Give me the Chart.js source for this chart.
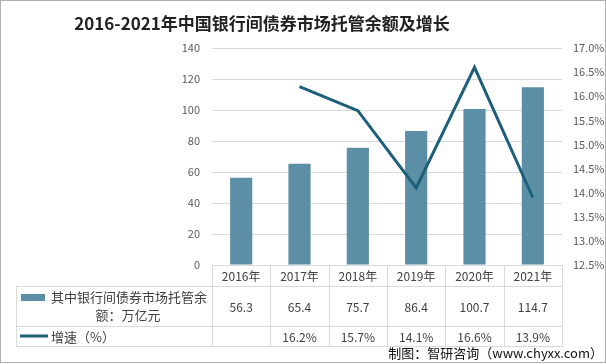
<!DOCTYPE html>
<html>
<head>
<meta charset="utf-8">
<script src="https://cdn.jsdelivr.net/npm/chart.js@4"></script>
<style>
  body { margin: 0; background: #fff; }
  #wrap { position: relative; width: 606px; height: 364px; }
  #title {
    position: absolute; left: 0; top: 11px; width: 524px; text-align: center;
    font: bold 17px 'Noto Sans CJK SC', sans-serif; line-height: 24px; color: #222;
  }
  #source {
    position: absolute; right: 3px; top: 344px;
    font: 13px 'Noto Sans CJK SC', sans-serif; line-height: 18px; color: #111;
  }
</style>
</head>
<body>
<div id="wrap">
  <canvas id="chart" width="606" height="364"></canvas>
  <div id="title">2016-2021年中国银行间债券市场托管余额及增长</div>
  <div id="source">制图：智研咨询（www.chyxx.com）</div>
</div>
<script>
const years = ['2016年', '2017年', '2018年', '2019年', '2020年', '2021年'];
const balance = [56.3, 65.4, 75.7, 86.4, 100.7, 114.7];
const growth = [null, 16.2, 15.7, 14.1, 16.6, 13.9];
const barName = '其中银行间债券市场托管余额：万亿元';
const lineName = '增速（%）';

const barColor = '#5B8FA5';
const lineColor = '#1D5F7B';
const gridColor = '#d9d9d9';
const textColor = '#404040';

Chart.defaults.font.family = "'Noto Sans CJK SC', 'Noto Sans', sans-serif";

// table under the plot, drawn on the x scale columns
const tablePlugin = {
  id: 'dataTable',
  afterDraw(chart) {
    const ctx = chart.ctx;
    const area = chart.chartArea;
    const x = chart.scales.x;
    const n = years.length;
    const colW = (area.right - area.left) / n;
    const rowTop = area.bottom, row1 = rowTop + 21, row2 = row1 + 40, row3 = row2 + 20;
    const leftEdge = 16;

    ctx.save();
    ctx.strokeStyle = gridColor;
    ctx.lineWidth = 1;
    ctx.beginPath();
    ctx.moveTo(area.left, rowTop + 0.5); ctx.lineTo(area.right, rowTop + 0.5);
    [row1, row2, row3].forEach(y => {
      ctx.moveTo(leftEdge, y + 0.5); ctx.lineTo(area.right, y + 0.5);
    });
    ctx.moveTo(leftEdge + 0.5, row1); ctx.lineTo(leftEdge + 0.5, row3);
    for (let k = 0; k <= n; k++) {
      const xx = Math.round(area.left + k * colW) + 0.5;
      ctx.moveTo(xx, rowTop); ctx.lineTo(xx, row3);
    }
    ctx.stroke();

    ctx.fillStyle = textColor;
    ctx.font = "12px 'Noto Sans CJK SC', sans-serif";
    ctx.textAlign = 'center';
    ctx.textBaseline = 'middle';
    years.forEach((yr, i) => {
      const cx = x.getPixelForValue(i);
      ctx.fillText(yr, cx, (rowTop + row1) / 2 + 1);
      ctx.fillText(balance[i].toFixed(1), cx, (row1 + row2) / 2 + 1);
      if (growth[i] != null) ctx.fillText(growth[i].toFixed(1) + '%', cx, (row2 + row3) / 2 + 1);
    });

    // legend keys
    ctx.fillStyle = barColor;
    ctx.fillRect(21, row1 + 8, 24, 7);
    ctx.strokeStyle = lineColor;
    ctx.lineWidth = 3;
    ctx.beginPath();
    ctx.moveTo(20, (row2 + row3) / 2); ctx.lineTo(48, (row2 + row3) / 2);
    ctx.stroke();

    ctx.fillStyle = textColor;
    ctx.font = "13px 'Noto Sans CJK SC', sans-serif";
    ctx.textAlign = 'left';
    ctx.fillText(barName.slice(0, 12), 51, row1 + 11);
    ctx.textAlign = 'center';
    ctx.fillText(barName.slice(12), 128, row1 + 29);
    ctx.textAlign = 'left';
    ctx.fillText(lineName, 51, (row2 + row3) / 2 + 1);

    // outer frame
    ctx.strokeStyle = '#b0b0b0';
    ctx.lineWidth = 1;
    ctx.strokeRect(0.5, 0.5, 605, 362);
    ctx.restore();
  }
};

new Chart(document.getElementById('chart'), {
  type: 'bar',
  data: {
    labels: years,
    datasets: [
      {
        type: 'line',
        label: lineName,
        data: growth,
        yAxisID: 'y1',
        borderColor: lineColor,
        borderWidth: 3,
        pointRadius: 0,
        tension: 0,
        order: 1
      },
      {
        label: barName,
        data: balance,
        yAxisID: 'y',
        backgroundColor: barColor,
        categoryPercentage: 1,
        barPercentage: 0.38,
        order: 2
      }
    ]
  },
  options: {
    responsive: false,
    animation: false,
    layout: { padding: { top: 48, bottom: 99, left: 0, right: 0 } },
    plugins: { legend: { display: false }, tooltip: { enabled: false } },
    scales: {
      x: { display: false },
      y: {
        position: 'left',
        min: 0, max: 140,
        ticks: { stepSize: 20, color: '#595959', font: { size: 11 }, padding: 12 },
        grid: { color: gridColor, drawTicks: false },
        border: { display: false },
        afterFit: s => { s.width = 212; }
      },
      y1: {
        position: 'right',
        min: 12.5, max: 17,
        ticks: { stepSize: 0.5, color: '#595959', font: { size: 11 }, padding: 11,
          callback: v => v.toFixed(1) + '%' },
        grid: { drawOnChartArea: false, drawTicks: false },
        border: { display: false },
        afterFit: s => { s.width = 44; }
      }
    }
  },
  plugins: [tablePlugin]
});
</script>
</body>
</html>
